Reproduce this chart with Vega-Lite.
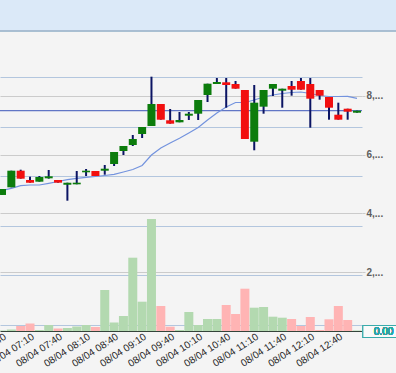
{
  "$schema": "https://vega.github.io/schema/vega-lite/v6.json",
  "width": 362,
  "height": 331,
  "autosize": {"type": "none"},
  "padding": {"left": 0, "top": 0, "right": 34, "bottom": 42},
  "background": "#f4f4f4",
  "config": {
    "view": {"stroke": null},
    "font": "Liberation Sans",
    "axisX": {"labels": false, "ticks": false, "grid": false, "domainColor": "#34443a", "domainWidth": 1}
  },
  "data": {"values": [
    {"t":"2024-08-04T06:40:00","open":4630,"high":4833,"low":4630,"close":4833,"ma":4782,"vol":5},
    {"t":"2024-08-04T06:50:00","open":4891,"high":5456,"low":4891,"close":5456,"ma":4857,"vol":15},
    {"t":"2024-08-04T07:00:00","open":5456,"high":5490,"low":5184,"close":5184,"ma":4946,"vol":50},
    {"t":"2024-08-04T07:10:00","open":5140,"high":5252,"low":5048,"close":5048,"ma":4969,"vol":75},
    {"t":"2024-08-04T07:20:00","open":5082,"high":5276,"low":5082,"close":5242,"ma":4969,"vol":10},
    {"t":"2024-08-04T07:30:00","open":5197,"high":5480,"low":5184,"close":5266,"ma":5027,"vol":60},
    {"t":"2024-08-04T07:40:00","open":5140,"high":5140,"low":5048,"close":5048,"ma":5089,"vol":25},
    {"t":"2024-08-04T07:50:00","open":4980,"high":5048,"low":4435,"close":5048,"ma":5150,"vol":30},
    {"t":"2024-08-04T08:00:00","open":4993,"high":5446,"low":4993,"close":5048,"ma":5197,"vol":45},
    {"t":"2024-08-04T08:10:00","open":5402,"high":5514,"low":5276,"close":5456,"ma":5231,"vol":60},
    {"t":"2024-08-04T08:20:00","open":5446,"high":5446,"low":5276,"close":5276,"ma":5259,"vol":40},
    {"t":"2024-08-04T08:30:00","open":5456,"high":5650,"low":5320,"close":5524,"ma":5293,"vol":410},
    {"t":"2024-08-04T08:40:00","open":5684,"high":6093,"low":5616,"close":6093,"ma":5334,"vol":85},
    {"t":"2024-08-04T08:50:00","open":6127,"high":6297,"low":5990,"close":6297,"ma":5412,"vol":150},
    {"t":"2024-08-04T09:00:00","open":6331,"high":6671,"low":6297,"close":6535,"ma":5497,"vol":733},
    {"t":"2024-08-04T09:10:00","open":6705,"high":6943,"low":6569,"close":6943,"ma":5633,"vol":293},
    {"t":"2024-08-04T09:20:00","open":6978,"high":8656,"low":6978,"close":7726,"ma":5991,"vol":1120},
    {"t":"2024-08-04T09:30:00","open":7726,"high":7726,"low":7192,"close":7192,"ma":6229,"vol":250},
    {"t":"2024-08-04T09:40:00","open":7172,"high":7556,"low":7056,"close":7056,"ma":6399,"vol":43},
    {"t":"2024-08-04T09:50:00","open":7103,"high":7454,"low":7103,"close":7182,"ma":6559,"vol":10},
    {"t":"2024-08-04T10:00:00","open":7328,"high":7454,"low":7182,"close":7396,"ma":6739,"vol":190},
    {"t":"2024-08-04T10:10:00","open":7396,"high":7862,"low":7182,"close":7862,"ma":6926,"vol":60},
    {"t":"2024-08-04T10:20:00","open":8033,"high":8417,"low":7794,"close":8417,"ma":7182,"vol":120},
    {"t":"2024-08-04T10:30:00","open":8407,"high":8611,"low":8407,"close":8475,"ma":7420,"vol":120},
    {"t":"2024-08-04T10:40:00","open":8465,"high":8611,"low":7600,"close":8373,"ma":7624,"vol":260},
    {"t":"2024-08-04T10:50:00","open":8407,"high":8509,"low":8247,"close":8247,"ma":7777,"vol":170},
    {"t":"2024-08-04T11:00:00","open":8203,"high":8203,"low":6535,"close":6535,"ma":7777,"vol":423},
    {"t":"2024-08-04T11:10:00","open":6443,"high":8373,"low":6151,"close":7771,"ma":7862,"vol":233},
    {"t":"2024-08-04T11:20:00","open":7635,"high":8203,"low":7396,"close":8203,"ma":7965,"vol":240},
    {"t":"2024-08-04T11:30:00","open":8247,"high":8407,"low":7999,"close":8407,"ma":8033,"vol":143},
    {"t":"2024-08-04T11:40:00","open":8179,"high":8247,"low":7600,"close":8247,"ma":8084,"vol":133},
    {"t":"2024-08-04T11:50:00","open":8339,"high":8509,"low":8009,"close":8213,"ma":8118,"vol":120},
    {"t":"2024-08-04T12:00:00","open":8509,"high":8611,"low":8213,"close":8213,"ma":8135,"vol":50},
    {"t":"2024-08-04T12:10:00","open":8407,"high":8611,"low":6920,"close":7907,"ma":8084,"vol":140},
    {"t":"2024-08-04T12:20:00","open":8203,"high":8203,"low":7873,"close":8009,"ma":8016,"vol":10},
    {"t":"2024-08-04T12:30:00","open":7965,"high":7965,"low":7192,"close":7600,"ma":7982,"vol":117},
    {"t":"2024-08-04T12:40:00","open":7362,"high":7771,"low":7192,"close":7192,"ma":7982,"vol":250},
    {"t":"2024-08-04T12:50:00","open":7566,"high":7566,"low":7192,"close":7464,"ma":7988,"vol":110},
    {"t":"2024-08-04T13:00:00","open":7430,"high":7498,"low":7430,"close":7498,"ma":7920,"vol":5}
  ]},
  "layer": [
    {
      "mark": {"type": "bar", "size": 9, "clip": true},
      "encoding": {
        "x": {"field": "t", "type": "temporal",
          "scale": {"padding": 0, "domain": [
            {"year": 2024, "month": 8, "date": 4, "hours": 6, "minutes": 37, "seconds": 52},
            {"year": 2024, "month": 8, "date": 4, "hours": 13, "minutes": 5, "seconds": 21}]},
          "axis": {"title": null, "labels": false, "ticks": false, "grid": false}},
        "y": {"field": "vol", "type": "quantitative", "scale": {"domain": [0, 3310], "nice": false, "zero": true},
          "axis": {"orient": "left", "title": null, "labels": false, "ticks": false, "domain": false,
            "grid": true, "gridColor": "#b3c6de", "gridWidth": 1, "values": [60, 556, 1052, 1548, 2044, 2540]}},
        "color": {"condition": {"test": "datum.close >= datum.open", "value": "#b3d9b0"}, "value": "#ffb4b4"}
      }
    },
    {
      "mark": {"type": "rect", "fill": "#fafafa", "stroke": "#3aabab", "strokeWidth": 1},
      "encoding": {
        "x": {"datum": {"year": 2024, "month": 8, "date": 4, "hours": 13, "minutes": 6, "seconds": 20}, "type": "temporal"},
        "x2": {"datum": {"year": 2024, "month": 8, "date": 4, "hours": 14, "minutes": 0}},
        "y": {"datum": 55, "type": "quantitative", "scale": {"domain": [0, 3310], "nice": false, "zero": true}, "axis": null},
        "y2": {"datum": -65}
      }
    },
    {
      "mark": {"type": "text", "text": "0.00", "align": "left", "baseline": "middle", "dx": 11, "fontSize": 10, "color": "#2fa3a3"},
      "encoding": {
        "x": {"datum": {"year": 2024, "month": 8, "date": 4, "hours": 13, "minutes": 6, "seconds": 20}, "type": "temporal"},
        "y": {"datum": -5, "type": "quantitative", "scale": {"domain": [0, 3310], "nice": false, "zero": true}, "axis": null}
      }
    },
    {
      "transform": [
        {"window": [{"op": "last_value", "field": "close", "as": "lc"}], "frame": [null, null]},
        {"aggregate": [{"op": "max", "field": "lc", "as": "lc"}]}
      ],
      "mark": {"type": "rule", "color": "#3b56b9", "strokeWidth": 1},
      "encoding": {
        "y": {"field": "lc", "type": "quantitative", "scale": {"domain": [0, 11266], "nice": false, "zero": true},
          "axis": {"orient": "right", "title": null, "values": [2000, 4000, 6000, 8000],
            "labelExpr": "substring(format(datum.value, ','), 0, 2) + '...'",
            "grid": true, "gridColor": "#cbcbcb", "domain": false, "ticks": true, "tickSize": 3, "tickColor": "#cbcbcb",
            "labelPadding": 1, "labelFontSize": 10, "labelFontWeight": "bold", "labelColor": "#5e5e5e",
            "labelFlush": false, "labelOverlap": false}}
      }
    },
    {
      "mark": {"type": "line", "color": "#7393de", "strokeWidth": 1.2, "clip": true},
      "encoding": {
        "x": {"field": "t", "type": "temporal"},
        "y": {"field": "ma", "type": "quantitative", "scale": {"domain": [0, 11266], "nice": false, "zero": true}, "axis": null}
      }
    },
    {
      "mark": {"type": "rule", "color": "#0b1463", "strokeWidth": 2, "clip": true},
      "encoding": {
        "x": {"field": "t", "type": "temporal"},
        "y": {"field": "low", "type": "quantitative", "scale": {"domain": [0, 11266], "nice": false, "zero": true}, "axis": null},
        "y2": {"field": "high"}
      }
    },
    {
      "mark": {"type": "bar", "size": 8, "clip": true},
      "encoding": {
        "x": {"field": "t", "type": "temporal"},
        "y": {"field": "open", "type": "quantitative", "scale": {"domain": [0, 11266], "nice": false, "zero": true}, "axis": null},
        "y2": {"field": "close"},
        "color": {"condition": {"test": "datum.close >= datum.open", "value": "#0c7c0c"}, "value": "#f20f0f"}
      }
    },
    {
      "mark": {"type": "rect", "fill": "#dbe9f8"},
      "encoding": {
        "x": {"datum": {"year": 2024, "month": 8, "date": 4, "hours": 5}, "type": "temporal"},
        "x2": {"datum": {"year": 2024, "month": 8, "date": 4, "hours": 15}},
        "y": {"datum": 10220, "type": "quantitative", "scale": {"domain": [0, 11266], "nice": false, "zero": true}, "axis": null},
        "y2": {"datum": 13000}
      }
    },
    {
      "mark": {"type": "rule", "color": "#a9bdd3", "strokeWidth": 1},
      "encoding": {
        "x": {"datum": {"year": 2024, "month": 8, "date": 4, "hours": 5}, "type": "temporal"},
        "x2": {"datum": {"year": 2024, "month": 8, "date": 4, "hours": 15}},
        "y": {"datum": 10220, "type": "quantitative", "scale": {"domain": [0, 11266], "nice": false, "zero": true}, "axis": null}
      }
    },
    {
      "transform": [{"filter": {"field": "t", "timeUnit": "minutes", "oneOf": [10, 40]}}],
      "mark": {"type": "text", "angle": 327, "align": "right", "baseline": "top", "dy": 1, "fontSize": 10, "color": "#1e1e1e"},
      "encoding": {
        "x": {"field": "t", "type": "temporal"},
        "y": {"datum": 0, "type": "quantitative", "scale": {"domain": [0, 11266], "nice": false, "zero": true}, "axis": null},
        "text": {"field": "t", "type": "temporal", "format": "%m/%d %H:%M"}
      }
    }
  ],
  "resolve": {"scale": {"y": "independent"}, "axis": {"y": "independent"}}
}
